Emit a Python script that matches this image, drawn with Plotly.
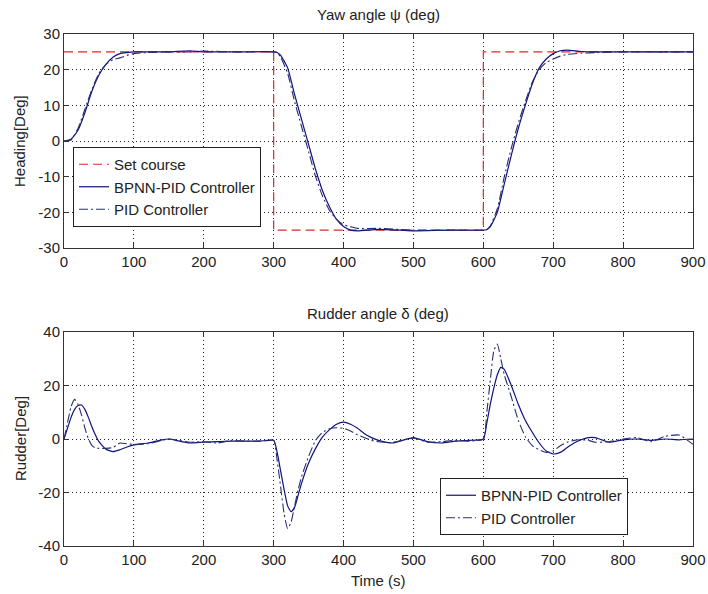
import plotly.graph_objects as go

# ---------------- data ----------------
# Top panel: heading
course_t = [0, 300, 300, 600, 600, 900]
course_y = [25, 25, -25, -25, 25, 25]

t_h = [0, 10, 20, 30, 40, 50, 60, 70, 80, 90,
       100, 120, 150, 180, 200, 250, 300,
       305, 310, 320, 330, 340, 350, 360, 370, 380, 390,
       400, 410, 420, 450, 480, 500, 550, 600,
       605, 610, 620, 630, 640, 650, 660, 670, 680, 690,
       700, 710, 720, 740, 760, 800, 850, 900]
bpnn_h = [0, 0.5, 3, 8, 14, 18.5, 21.5, 23.5, 24.5, 24.8,
          25, 25, 25, 25.3, 25, 25, 25,
          24.8, 24, 20.5, 13, 6, -1, -8, -14, -18.5, -22,
          -24, -25, -25.2, -24.8, -25, -25.2, -25, -25,
          -24.8, -24, -20, -12, -4, 3.5, 10, 16, 20.5, 23,
          24.5, 25.3, 25.5, 25.1, 25, 25, 25, 25]
pid_h = [0, 0.3, 3.5, 9, 14.5, 19, 21.5, 22.8, 23.3, 24,
         24.5, 24.8, 25, 25, 25.2, 25, 25,
         24.8, 23.5, 19, 11, 4, -3, -10, -15.5, -19.5, -22,
         -23.5, -24, -24.5, -24.5, -24.8, -25, -25, -25,
         -24.8, -23.8, -19, -10, -2, 5, 11, 16.5, 20, 22,
         23, 23.8, 24.3, 24.6, 24.8, 25, 25, 25]

# Bottom panel: rudder
t_r = [0, 5, 10, 15, 20, 25, 30, 35, 40, 45, 50, 60, 70, 80, 90, 100,
       120, 140, 150, 160, 180, 200, 220, 240, 260, 280, 300,
       305, 310, 315, 320, 325, 330, 335, 340, 350, 360, 370, 380, 390,
       400, 410, 420, 430, 440, 450, 470, 500, 520, 540, 560, 580, 600,
       605, 610, 615, 620, 625, 630, 640, 650, 660, 670, 680, 690,
       700, 710, 720, 730, 740, 750, 760, 780, 800, 820, 840, 860, 880, 900]
bpnn_r = [0, 4, 8, 11, 12.5, 12.7, 11, 8, 4.5, 1.5, -1, -3.8, -4.7, -4, -3, -2.2,
          -1.5, -0.3, 0, -0.5, -1.5, -1.2, -1, -0.8, -0.8, -0.8, -0.5,
          -5, -12, -19, -25, -27.2, -25.5, -21, -16.5, -9, -3.5, 0.8, 3.5, 5.5,
          6.3, 5.5, 4, 2, 0.5, -0.5, -1.5, 0.5, -1, -1.5, -0.8, -0.5, 0,
          6, 13, 19, 24, 26.8, 26, 20, 13, 7, 2.5, -1.5, -4.5,
          -5.6, -5, -3.2, -1.5, -0.3, 0.5, 0.5, -1.2, -0.3, 0, -0.5, 0, -0.3, 0]
pid_r = [0, 6, 12, 14.8, 13, 9, 4, 0, -2.5, -3.3, -3.5, -3.5, -3.2, -1.5, -1.8, -2,
         -1.8, -0.5, 0, -0.3, -1.2, -1, -1.5, -0.5, -0.8, -0.8, -0.5,
         -8, -18, -28, -33.5, -31, -25, -19, -14, -6.5, -0.5, 2.5, 3.8, 4.2,
         4, 3, 1.5, 0.5, -0.5, -1, -1.3, 0.3, -1.2, -1, -0.5, -0.8, 0,
         10, 22, 33, 35.5, 30, 24, 15.8, 7, 0.9, -2.5, -4, -5,
         -4.5, -2.5, -1.2, -0.5, -0.3, -0.5, -1.2, -1, 0, 0.5, -1, 1, 1.5, -2]

x_ticks = [0, 100, 200, 300, 400, 500, 600, 700, 800, 900]
x_labels = ["0", "100", "200", "300", "400", "500", "600", "700", "800", "900"]
head_ticks = [-30, -20, -10, 0, 10, 20, 30]
head_labels = ["-30", "-20", "-10", "0", "10", "20", "30"]
rud_ticks = [-40, -20, 0, 20, 40]
rud_labels = ["-40", "-20", "0", "20", "40"]

# ---------------- styling ----------------
W, H = 708, 594
FONT = "Liberation Sans, Arial, sans-serif"
FS = 15
RED = "#dd2a2a"
NAVY = "#12127e"
PID_C = "#25306e"

fig = go.Figure()

fig.add_trace(go.Scatter(x=course_t, y=course_y, mode="lines", name="Set course",
                         line=dict(color=RED, width=1.2, dash="9px,5px"),
                         xaxis="x", yaxis="y", legend="legend"))
fig.add_trace(go.Scatter(x=t_h, y=bpnn_h, mode="lines", name="BPNN-PID Controller",
                         line=dict(color=NAVY, width=1.2, shape="spline", smoothing=0.5),
                         xaxis="x", yaxis="y", legend="legend"))
fig.add_trace(go.Scatter(x=t_h, y=pid_h, mode="lines", name="PID Controller",
                         line=dict(color=PID_C, width=1.1, dash="9px,3px,2px,3px",
                                   shape="spline", smoothing=0.5),
                         xaxis="x", yaxis="y", legend="legend"))

fig.add_trace(go.Scatter(x=t_r, y=bpnn_r, mode="lines", name="BPNN-PID Controller",
                         line=dict(color=NAVY, width=1.2, shape="spline", smoothing=0.5),
                         xaxis="x2", yaxis="y2", legend="legend2"))
fig.add_trace(go.Scatter(x=t_r, y=pid_r, mode="lines", name="PID Controller",
                         line=dict(color=PID_C, width=1.1, dash="9px,3px,2px,3px",
                                   shape="spline", smoothing=0.5),
                         xaxis="x2", yaxis="y2", legend="legend2"))


def px_x(p):
    return p / W


def px_y(p):
    return 1 - p / H


common_axis = dict(showline=True, mirror="ticks", linecolor="#333333", linewidth=1,
                   ticks="inside", ticklen=5, tickcolor="#333333", automargin=False,
                   showgrid=True, gridcolor="#222222", gridwidth=1, griddash="1px,3px",
                   zeroline=False, tickfont=dict(family=FONT, size=FS, color="#222222"))

x_dom = [px_x(64), px_x(693)]

fig.update_layout(
    template="none",
    width=W, height=H,
    margin=dict(l=0, r=0, t=0, b=0, pad=0),
    paper_bgcolor="white", plot_bgcolor="white",
    font=dict(family=FONT, size=FS, color="#222222"),
    xaxis=dict(domain=x_dom, anchor="y", range=[0, 900], tickvals=x_ticks,
               ticktext=x_labels, **common_axis),
    yaxis=dict(domain=[px_y(248), px_y(34)], anchor="x", range=[-30, 30],
               tickvals=head_ticks, ticktext=head_labels, **common_axis),
    xaxis2=dict(domain=x_dom, anchor="y2", range=[0, 900], tickvals=x_ticks,
                ticktext=x_labels, **common_axis),
    yaxis2=dict(domain=[px_y(546), px_y(332)], anchor="x2", range=[-40, 40],
                tickvals=rud_ticks, ticktext=rud_labels, **common_axis),
    legend=dict(x=px_x(73), y=px_y(147), xanchor="left", yanchor="top",
                bgcolor="white", bordercolor="#222222", borderwidth=1,
                font=dict(family=FONT, size=FS, color="#222222"), tracegroupgap=0),
    legend2=dict(x=px_x(440), y=px_y(478), xanchor="left", yanchor="top",
                 bgcolor="white", bordercolor="#222222", borderwidth=1,
                 font=dict(family=FONT, size=FS, color="#222222"), tracegroupgap=0),
    annotations=[
        dict(text="Yaw angle ψ (deg)", x=px_x(378), y=px_y(14), xref="paper", yref="paper",
             showarrow=False, font=dict(family=FONT, size=FS), xanchor="center", yanchor="middle"),
        dict(text="Rudder angle δ (deg)", x=px_x(378), y=px_y(313), xref="paper", yref="paper",
             showarrow=False, font=dict(family=FONT, size=FS), xanchor="center", yanchor="middle"),
        dict(text="Heading[Deg]", x=px_x(20), y=px_y(141), xref="paper", yref="paper",
             showarrow=False, textangle=-90, font=dict(family=FONT, size=FS),
             xanchor="center", yanchor="middle"),
        dict(text="Rudder[Deg]", x=px_x(20), y=px_y(439), xref="paper", yref="paper",
             showarrow=False, textangle=-90, font=dict(family=FONT, size=FS),
             xanchor="center", yanchor="middle"),
        dict(text="Time (s)", x=px_x(378), y=px_y(580), xref="paper", yref="paper",
             showarrow=False, font=dict(family=FONT, size=FS),
             xanchor="center", yanchor="middle"),
    ],
)

fig.write_html("out.html")
